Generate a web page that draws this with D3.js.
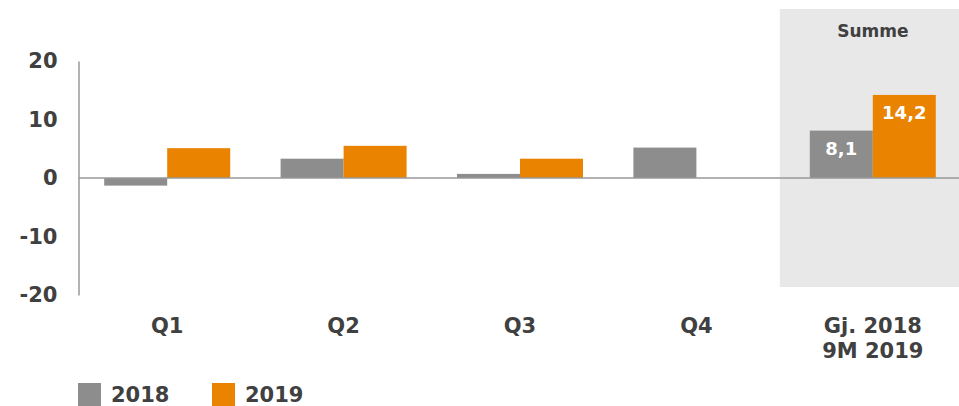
<!DOCTYPE html>
<html>
<head>
<meta charset="utf-8">
<script src="https://cdn.jsdelivr.net/npm/d3@7"></script>
<style>
  body { margin: 0; background: #fff; }
  text { font-family: "DejaVu Sans", Verdana, sans-serif; font-weight: bold; }
</style>
</head>
<body>
<div id="wrapper"></div>
<script>
const categories = ["Q1", "Q2", "Q3", "Q4", "Gj. 2018\n9M 2019"]
const series = ["2018", "2019"]
const values2018 = [-1.3, 3.3, 0.7, 5.2, 8.1]
const values2019 = [5.1, 5.5, 3.3, null, 14.2]
const yTicks = [-20, -10, 0, 10, 20]
const sumLabels = ["8,1", "14,2"]

const colors = { "2018": "#8c8d8c", "2019": "#e98300" }
const textColor = "#404040"

const width = 959
const height = 406

const svg = d3.select("#wrapper")
    .append("svg")
    .attr("width", width)
    .attr("height", height)

const xScaler = d3.scaleBand()
    .domain(categories)
    .range([79, 961])

const barWidth = 63

const yScaler = d3.scaleLinear()
    .domain([-20, 20])
    .range([295, 61])

// grey "Summe" panel behind last category
const lastX = xScaler(categories[4])
svg.append("rect")
    .attr("x", lastX + xScaler.bandwidth() / 2 - 93)
    .attr("y", 9)
    .attr("width", 200)
    .attr("height", 278)
    .attr("fill", "#e8e8e8")

svg.append("text")
    .attr("x", lastX + xScaler.bandwidth() / 2)
    .attr("y", 37)
    .attr("text-anchor", "middle")
    .attr("font-size", "17px")
    .attr("fill", textColor)
    .text("Summe")

// y axis
const yAxis = svg.append("g")
    .attr("transform", "translate(78.5,0)")
    .call(d3.axisLeft(yScaler).tickValues(yTicks).tickSize(0).tickPadding(21).tickFormat(d => String(d)))
yAxis.select(".domain").attr("stroke", "#999").attr("stroke-width", 1.5)
yAxis.selectAll("text")
    .attr("font-size", "21px")
    .attr("font-family", "DejaVu Sans, Verdana, sans-serif")
    .attr("font-weight", "bold")
    .attr("fill", textColor)

// bars
const barData = []
categories.forEach((c, i) => {
    barData.push({ cat: c, series: "2018", value: values2018[i], idx: 0 })
    if (values2019[i] !== null) barData.push({ cat: c, series: "2019", value: values2019[i], idx: 1 })
})

svg.append("g").selectAll("rect")
    .data(barData)
    .enter()
    .append("rect")
    .attr("x", d => xScaler(d.cat) + xScaler.bandwidth() / 2 - barWidth + d.idx * barWidth)
    .attr("y", d => yScaler(Math.max(0, d.value)))
    .attr("width", barWidth)
    .attr("height", d => Math.abs(yScaler(d.value) - yScaler(0)))
    .attr("fill", d => colors[d.series])

// zero line
svg.append("line")
    .attr("x1", 78.5)
    .attr("x2", width)
    .attr("y1", yScaler(0))
    .attr("y2", yScaler(0))
    .attr("stroke", "#999")
    .attr("stroke-width", 1.5)

// labels in the sum bars
const sumBars = barData.filter(d => d.cat === categories[4])
svg.append("g").selectAll("text")
    .data(sumBars)
    .enter()
    .append("text")
    .attr("x", d => xScaler(d.cat) + xScaler.bandwidth() / 2 - barWidth / 2 + d.idx * barWidth)
    .attr("y", d => yScaler(d.value) + 24)
    .attr("text-anchor", "middle")
    .attr("font-size", "18px")
    .attr("fill", "#fff")
    .text((d, i) => sumLabels[i])

// x labels
const xLabels = svg.append("g").selectAll("text")
    .data(categories)
    .enter()
    .append("text")
    .attr("x", d => xScaler(d) + xScaler.bandwidth() / 2)
    .attr("y", 333)
    .attr("text-anchor", "middle")
    .attr("font-size", "21px")
    .attr("fill", textColor)

xLabels.each(function (d) {
    const lines = d.split("\n")
    const t = d3.select(this)
    lines.forEach((l, i) => {
        t.append("tspan")
            .attr("x", xScaler(d) + xScaler.bandwidth() / 2)
            .attr("dy", i === 0 ? 0 : 25)
            .text(l)
    })
})

// legend
const legend = svg.append("g").selectAll("g")
    .data(series)
    .enter()
    .append("g")
    .attr("transform", (d, i) => `translate(${78 + i * 134},383)`)

legend.append("rect")
    .attr("width", 23)
    .attr("height", 23)
    .attr("fill", d => colors[d])

legend.append("text")
    .attr("x", 33)
    .attr("y", 19)
    .attr("font-size", "21px")
    .attr("fill", textColor)
    .text(d => d)
</script>
</body>
</html>
